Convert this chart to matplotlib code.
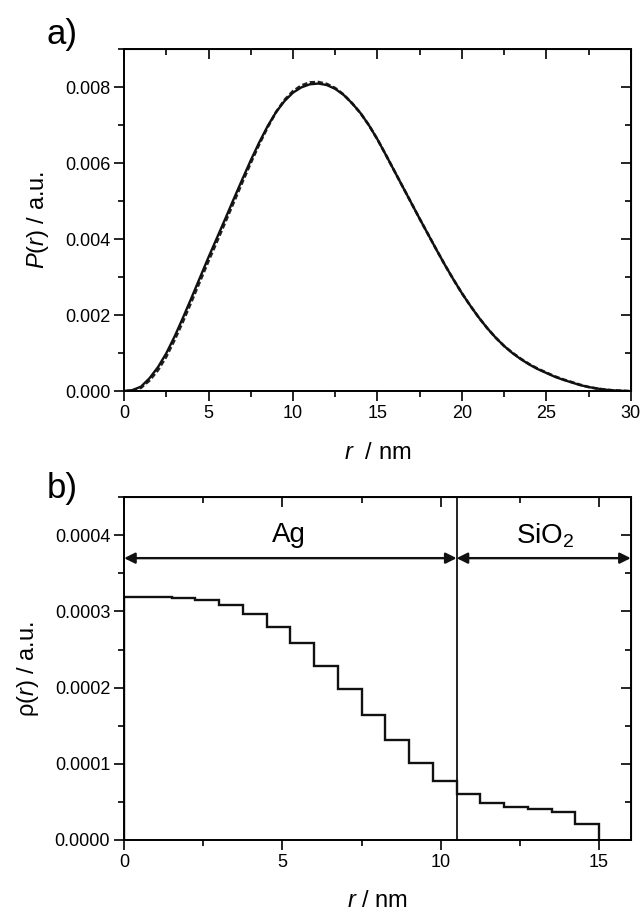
import numpy as np
import matplotlib
matplotlib.use("Agg")
import matplotlib.pyplot as plt
from matplotlib.ticker import MultipleLocator, FormatStrFormatter

plt.rcParams['font.family'] = ['Liberation Sans', 'DejaVu Sans']
plt.rcParams['mathtext.fontset'] = 'custom'
plt.rcParams['mathtext.rm'] = 'Liberation Sans'
plt.rcParams['mathtext.it'] = 'Liberation Sans:italic'

# a) pair distance distribution P(r), fit (solid) and data (dashed)
r_a = [0, 0.5, 1, 1.5, 2, 2.5, 3, 3.5, 4, 4.5, 5, 5.5, 6, 6.5, 7, 7.5, 8, 8.5, 9, 9.5,
       10, 10.5, 11, 11.5, 12, 12.5, 13, 13.5, 14, 14.5, 15, 15.5, 16, 16.5, 17, 17.5,
       18, 18.5, 19, 19.5, 20, 20.5, 21, 21.5, 22, 22.5, 23, 23.5, 24, 24.5, 25, 25.5,
       26, 26.5, 27, 27.5, 28, 28.5, 29, 29.5, 30]
p_fit = [0.0, 0.00003, 0.00012, 0.00034, 0.00063, 0.00100, 0.00145, 0.00195, 0.00247,
         0.00300, 0.00353, 0.00404, 0.00455, 0.00507, 0.00558, 0.00608, 0.00655, 0.00698,
         0.00735, 0.00764, 0.00786, 0.00800, 0.00808, 0.00810, 0.00806, 0.00796, 0.00780,
         0.00758, 0.00732, 0.00700, 0.00663, 0.00622, 0.00580, 0.00538, 0.00496, 0.00454,
         0.00413, 0.00372, 0.00332, 0.00294, 0.00258, 0.00225, 0.00194, 0.00166, 0.00141,
         0.00119, 0.00100, 0.00084, 0.00070, 0.00058, 0.00048, 0.00038, 0.00030, 0.00023,
         0.00016, 0.00011, 0.00007, 0.00004, 0.00002, 0.00001, 0.0]
p_data = [0.0, 0.00002, 0.00009, 0.00028, 0.00055, 0.00091, 0.00136, 0.00185, 0.00237,
          0.00290, 0.00343, 0.00394, 0.00446, 0.00498, 0.00550, 0.00601, 0.00650, 0.00695,
          0.00735, 0.00767, 0.00790, 0.00805, 0.00813, 0.00814, 0.00809, 0.00798, 0.00781,
          0.00758, 0.00732, 0.00700, 0.00663, 0.00622, 0.00580, 0.00538, 0.00496, 0.00454,
          0.00413, 0.00372, 0.00332, 0.00294, 0.00258, 0.00225, 0.00194, 0.00166, 0.00141,
          0.00119, 0.00101, 0.00085, 0.00071, 0.00059, 0.00049, 0.00039, 0.00031, 0.00024,
          0.00017, 0.00011, 0.00007, 0.00004, 0.00002, 0.00001, 0.0]

# b) radial density profile (step function)
edges_b = [0, 0.75, 1.5, 2.25, 3.0, 3.75, 4.5, 5.25, 6.0, 6.75, 7.5, 8.25, 9.0, 9.75,
           10.5, 11.25, 12.0, 12.75, 13.5, 14.25, 15.0]
rho = [0.000319, 0.000319, 0.000318, 0.000315, 0.000309, 0.000297, 0.000280, 0.000258,
       0.000229, 0.000198, 0.000164, 0.000131, 0.000101, 0.0000768, 0.0000601,
       0.0000491, 0.0000434, 0.0000412, 0.0000364, 0.0000211]
r_core = 10.5
r_max_b = 16
arrow_y = 0.00037


def style_axes(ax, xmaj, xmin, ymaj, ymin, yfmt):
    for s in ax.spines.values():
        s.set_linewidth(1.4)
    ax.xaxis.set_major_locator(MultipleLocator(xmaj))
    ax.xaxis.set_minor_locator(MultipleLocator(xmin))
    ax.yaxis.set_major_locator(MultipleLocator(ymaj))
    ax.yaxis.set_minor_locator(MultipleLocator(ymin))
    ax.yaxis.set_major_formatter(FormatStrFormatter(yfmt))
    ax.tick_params(which='both', direction='out', width=1.2, labelsize=13, pad=3)
    ax.tick_params(which='major', length=7)
    ax.tick_params(which='minor', length=4)
    # mirrored ticks pointing inwards
    top = ax.secondary_xaxis('top')
    top.xaxis.set_major_locator(MultipleLocator(xmaj))
    top.xaxis.set_minor_locator(MultipleLocator(xmin))
    top.tick_params(which='both', direction='in', labeltop=False, width=1.2)
    top.tick_params(which='major', length=7)
    top.tick_params(which='minor', length=4)
    right = ax.secondary_yaxis('right')
    right.yaxis.set_major_locator(MultipleLocator(ymaj))
    right.yaxis.set_minor_locator(MultipleLocator(ymin))
    right.tick_params(which='both', direction='in', labelright=False, width=1.2)
    right.tick_params(which='major', length=7)
    right.tick_params(which='minor', length=4)


fig = plt.figure(figsize=(6.43, 9.14), dpi=100)

ax1 = fig.add_axes([0.193, 0.572, 0.788, 0.374])
ax1.plot(r_a, p_data, color='#222222', lw=1.9, linestyle=(0, (2, 1)))
ax1.plot(r_a, p_fit, color='#111111', lw=1.7)
ax1.set_xlim(0, 30)
ax1.set_ylim(0, 0.009)
style_axes(ax1, 5, 2.5, 0.002, 0.001, '%.3f')
ax1.set_xlabel(r'$\it{r}$  / nm', fontsize=17, labelpad=14)
ax1.set_ylabel(r'$\it{P}$($\it{r}$) / a.u.', fontsize=17, labelpad=10)
fig.text(0.097, 0.962, 'a)', fontsize=25, ha='center', va='center')

ax2 = fig.add_axes([0.193, 0.081, 0.788, 0.375])
ax2.stairs(rho, edges_b, baseline=0, color='#111111', lw=1.7)
ax2.axvline(r_core, color='#111111', lw=1.3)
ax2.annotate('', xy=(0, arrow_y), xytext=(r_core, arrow_y),
             arrowprops=dict(arrowstyle='<|-|>', color='#111111', lw=1.7,
                             mutation_scale=16, shrinkA=0, shrinkB=0))
ax2.annotate('', xy=(r_core, arrow_y), xytext=(r_max_b, arrow_y),
             arrowprops=dict(arrowstyle='<|-|>', color='#111111', lw=1.7,
                             mutation_scale=16, shrinkA=0, shrinkB=0))
ax2.text(5.2, 0.0004, 'Ag', fontsize=20, ha='center', va='center')
ax2.text(13.3, 0.0004, 'SiO$_2$', fontsize=20, ha='center', va='center')
ax2.set_xlim(0, r_max_b)
ax2.set_ylim(0, 0.00045)
style_axes(ax2, 5, 2.5, 0.0001, 0.00005, '%.4f')
ax2.set_xlabel(r'$\it{r}$ / nm', fontsize=17, labelpad=14)
ax2.set_ylabel(r'ρ($\it{r}$) / a.u.', fontsize=17, labelpad=10)
fig.text(0.097, 0.465, 'b)', fontsize=25, ha='center', va='center')

fig.savefig('out.png', dpi=100)
